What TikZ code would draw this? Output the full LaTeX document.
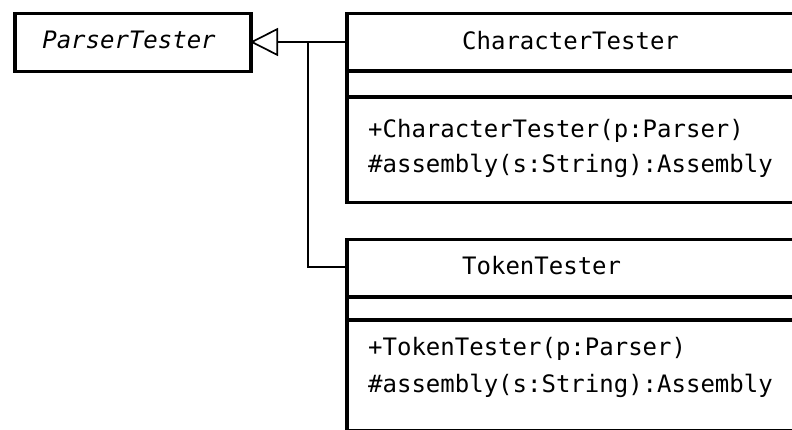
\documentclass[tikz,border=0pt]{standalone}
\usepackage{fontspec}
\setmonofont{DejaVu Sans Mono}
\usetikzlibrary{arrows.meta}
\begin{document}
\begin{tikzpicture}[x=1pt,y=-1pt,
  cls/.style={draw, line width=3.5pt, rectangle, inner sep=0pt, anchor=north west},
  divider/.style={line width=3.5pt},
  conn/.style={line width=1.7pt},
  txt/.style={anchor=base west, inner sep=0pt, font=\fontsize{24}{28}\selectfont\ttfamily},
  inherit/.style={conn, -{Triangle[open, length=28pt, width=28pt, line width=1.7pt]}}]
\useasboundingbox (0,0) rectangle (792,430);
% ParserTester
\node[cls, minimum width=236pt, minimum height=58pt] (pt) at (13,12) {};
\node[txt, anchor=base, font=\fontsize{24}{28}\selectfont\ttfamily\itshape] (ptname) at (129,49) {ParserTester};
% CharacterTester
\node[cls, minimum width=470pt, minimum height=189pt] (ct) at (345,12) {};
\draw[divider] (345,71) -- (820,71);
\draw[divider] (345,97) -- (820,97);
\node[txt] (ctname) at (462,50) {CharacterTester};
\node[txt] (ctm1) at (368,138) {+CharacterTester(p:Parser)};
\node[txt] (ctm2) at (368,173) {\#assembly(s:String):Assembly};
% TokenTester
\node[cls, minimum width=470pt, minimum height=191pt] (tt) at (345,238) {};
\draw[divider] (345,297) -- (820,297);
\draw[divider] (345,320) -- (820,320);
\node[txt] (ttname) at (462,275) {TokenTester};
\node[txt] (ttm1) at (368,355) {+TokenTester(p:Parser)};
\node[txt] (ttm2) at (368,392) {\#assembly(s:String):Assembly};
% connectors
\coordinate (ctport) at (345,42);
\coordinate (ttport) at (345,267);
\coordinate (join) at (308,42);
\coordinate (ptport) at (250,42);
\draw[inherit] (ctport) -- (ptport);
\draw[conn] (ttport) -| (join);
\end{tikzpicture}
\end{document}
